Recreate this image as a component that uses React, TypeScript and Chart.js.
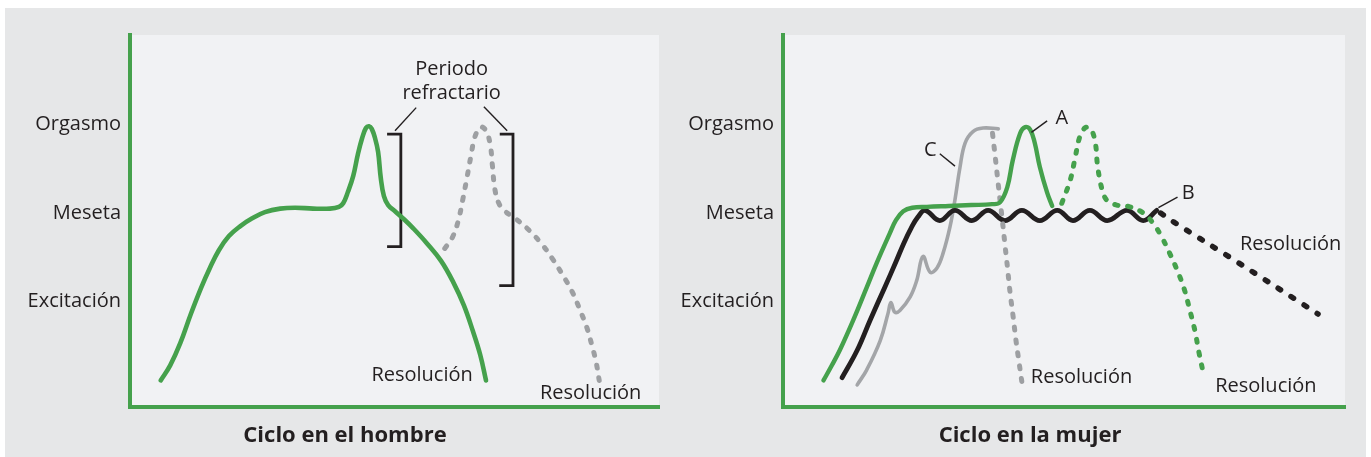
import React, { useEffect, useRef } from 'react';
import { Chart, registerables } from 'chart.js';

Chart.register(...registerables);

type P = [number, number];

// ---------- shared axis data ----------
const levelTicks = [1, 2, 3];
const levelNames = ['Excitación', 'Meseta', 'Orgasmo'];

// ---------- Ciclo en el hombre (x: 0-100 time, y: arousal level) ----------
const hombreCurve: P[] = [
  [5.8, 0.11], [7.6, 0.28], [9.5, 0.53], [11.5, 0.86], [13.4, 1.15], [15.1, 1.38], [16.8, 1.58],
  [18.7, 1.74], [20.8, 1.85], [23.1, 1.94], [25.5, 2.01], [28.4, 2.05], [31.2, 2.06], [34.6, 2.05],
  [37.8, 2.05], [39.5, 2.07], [40.3, 2.11], [41.2, 2.24], [42.2, 2.42], [43.1, 2.67], [43.9, 2.85],
  [44.6, 2.96], [45.2, 2.98], [45.7, 2.95], [46.3, 2.85], [46.9, 2.69], [47.4, 2.4], [48.0, 2.19],
  [48.8, 2.09], [50.1, 2.02], [51.8, 1.93], [53.5, 1.83], [56.1, 1.66], [58.8, 1.46], [61.1, 1.22],
  [63.1, 0.96], [64.8, 0.67], [66.2, 0.4], [67.3, 0.11],
];
const hombreSegundo: P[] = [
  [59.5, 1.6], [60.9, 1.72], [62.0, 1.9], [62.9, 2.15], [63.7, 2.4], [64.5, 2.66], [65.2, 2.86],
  [66.3, 2.97], [67.3, 2.93], [68.1, 2.77], [68.5, 2.54], [69.0, 2.26], [69.8, 2.1], [70.9, 2.02],
  [72.8, 1.94], [75.2, 1.82], [77.7, 1.66], [79.9, 1.48], [81.8, 1.3], [83.6, 1.11], [85.1, 0.9],
  [86.4, 0.7], [87.3, 0.51], [88.1, 0.32], [88.7, 0.11],
];
const bracketUno: P[] = [[48.6, 2.89], [51.2, 2.89], [51.2, 1.62], [48.6, 1.62]];
const bracketDos: P[] = [[69.9, 2.89], [72.4, 2.89], [72.4, 1.18], [69.8, 1.18]];
const guiaUno: P[] = [[50.1, 2.93], [54.1, 3.19]];
const guiaDos: P[] = [[66.9, 3.2], [71.3, 2.93]];
const hombreNotas = [
  { text: 'Periodo', x: 60.8, y: 3.62, align: 'center' },
  { text: 'refractario', x: 60.8, y: 3.35, align: 'center' },
  { text: 'Resolución', x: 64.8, y: 0.17, align: 'right' },
  { text: 'Resolución', x: 77.5, y: -0.04, align: 'left' },
];

// ---------- Ciclo en la mujer ----------
const mujerA: P[] = [
  [7.2, 0.11], [8.6, 0.27], [10.1, 0.45], [12.5, 0.79], [14.9, 1.16], [16.7, 1.44], [19.0, 1.77],
  [20.1, 1.92], [21.4, 2.02], [23.0, 2.06], [25.6, 2.07], [29.5, 2.08], [33.5, 2.09], [37.2, 2.1],
  [38.6, 2.12], [39.9, 2.29], [40.9, 2.6], [42.2, 2.9], [43.1, 2.97], [44.0, 2.94], [44.8, 2.79],
  [45.7, 2.52], [47.0, 2.23], [47.9, 2.08],
];
const mujerAResol: P[] = [
  [49.6, 2.11], [51.1, 2.37], [52.0, 2.63], [52.8, 2.86], [53.7, 2.96], [54.6, 2.96], [55.5, 2.82],
  [56.0, 2.52], [56.8, 2.26], [57.7, 2.14], [59.4, 2.09], [61.7, 2.07], [64.1, 2.0], [65.8, 1.89],
  [67.3, 1.74], [68.7, 1.56], [70.1, 1.36], [71.4, 1.14], [72.4, 0.9], [73.3, 0.67], [74.0, 0.43],
  [74.9, 0.16],
];
const mujerB: P[] = [
  [10.5, 0.14], [13.2, 0.45], [15.5, 0.79], [18.1, 1.16], [20.1, 1.45], [21.5, 1.66], [22.8, 1.83],
  [24.0, 1.955], [25.3, 2.03], [27.9, 1.915], [30.6, 2.03], [33.6, 1.915], [36.5, 2.03], [39.5, 1.915],
  [42.5, 2.03], [45.7, 1.915], [48.8, 2.03], [51.6, 1.915], [54.6, 2.03], [57.7, 1.915], [61.2, 2.03],
  [64.1, 1.915], [66.5, 2.03],
];
const mujerBResol: P[] = [[67.2, 2.0], [69.5, 1.9], [81.0, 1.44], [95.2, 0.86]];
const mujerC: P[] = [
  [13.2, 0.06], [14.9, 0.23], [17.3, 0.56], [18.7, 0.87], [19.2, 0.99], [19.9, 0.88], [20.8, 0.9],
  [22.6, 1.05], [23.8, 1.24], [24.9, 1.51], [26.2, 1.33], [27.4, 1.38], [28.5, 1.55], [29.7, 1.84],
  [30.6, 2.15], [31.5, 2.52], [32.4, 2.79], [33.8, 2.92], [35.6, 2.96], [38.3, 2.95],
];
const mujerCResol: P[] = [
  [37.28, 2.9], [37.72, 2.66], [38.17, 2.4], [38.61, 2.15], [39.06, 1.9], [39.5, 1.64],
  [39.95, 1.38], [40.39, 1.11], [40.93, 0.84], [41.46, 0.56], [41.99, 0.32], [42.53, 0.08],
];
const guiaA: P[] = [[47.0, 3.04], [44.2, 2.91]];
const guiaB: P[] = [[70.2, 2.18], [66.8, 2.06]];
const guiaC: P[] = [[27.9, 2.67], [30.6, 2.53]];
const mujerNotas = [
  { text: 'A', x: 49.6, y: 3.07, align: 'center' },
  { text: 'B', x: 72.1, y: 2.22, align: 'center' },
  { text: 'C', x: 26.2, y: 2.71, align: 'center' },
  { text: 'Resolución', x: 81.3, y: 1.65, align: 'left' },
  { text: 'Resolución', x: 44.1, y: 0.14, align: 'left' },
  { text: 'Resolución', x: 76.9, y: 0.045, align: 'left' },
];

// ---------- styles ----------
const GREEN = '#45a14c';
const INK = '#231f20';
const GREY_DOT = '#9d9fa2';
const GREY_LINE = '#a3a5a8';
const FONT = '"Open Sans", "Noto Sans", sans-serif';

const toXY = (pts: P[]) => pts.map(([x, y]) => ({ x, y }));

const curve = (pts: P[], color: string, width: number, order: number, dash?: number[]) => ({
  data: toXY(pts),
  borderColor: color,
  borderWidth: width,
  tension: 0.4,
  pointRadius: 0,
  fill: false,
  order,
  borderCapStyle: 'round',
  borderJoinStyle: 'round',
  borderDash: dash || [],
});

const stroke = (pts: P[], width: number, order: number) => ({
  data: toXY(pts),
  borderColor: INK,
  borderWidth: width,
  tension: 0,
  pointRadius: 0,
  fill: false,
  order,
  borderCapStyle: 'butt',
  borderJoinStyle: 'miter',
});

const panelBg = {
  id: 'panelBg',
  beforeDraw(chart: any) {
    const { ctx, chartArea: a } = chart;
    ctx.save();
    ctx.fillStyle = '#f1f2f4';
    ctx.fillRect(a.left, a.top, a.right - a.left, a.bottom - a.top);
    ctx.restore();
  },
};

const notesPlugin = {
  id: 'notes',
  afterDatasetsDraw(chart: any, _args: any, opts: any) {
    const { ctx, scales } = chart;
    ctx.save();
    ctx.fillStyle = INK;
    ctx.font = `20px ${FONT}`;
    ctx.textBaseline = 'middle';
    for (const n of opts.items || []) {
      ctx.textAlign = n.align;
      ctx.fillText(n.text, scales.x.getPixelForValue(n.x), scales.y.getPixelForValue(n.y));
    }
    ctx.restore();
  },
};

const makeConfig = (datasets: any[], notes: any[], axisW: number, rightPad: number) => ({
  type: 'line',
  data: { datasets },
  options: {
    animation: false,
    responsive: false,
    events: [],
    layout: { padding: { top: 27, right: rightPad, left: 0, bottom: 0 } },
    plugins: {
      legend: { display: false },
      tooltip: { enabled: false },
      notes: { items: notes },
    },
    scales: {
      x: {
        type: 'linear',
        min: 0,
        max: 100,
        ticks: { display: false },
        grid: { display: false, drawTicks: false },
        border: { display: true, color: GREEN, width: 4 },
        afterFit: (s: any) => { s.height = 50; },
      },
      y: {
        type: 'linear',
        min: -0.19,
        max: 4.01,
        afterBuildTicks: (s: any) => { s.ticks = levelTicks.map((v) => ({ value: v })); },
        ticks: {
          autoSkip: false,
          padding: 9,
          color: INK,
          font: { family: FONT, size: 20 },
          callback: (_v: any, i: number) => levelNames[i],
        },
        grid: { display: false, drawTicks: false },
        border: { display: true, color: GREEN, width: 4 },
        afterFit: (s: any) => { s.width = axisW; },
      },
    },
  },
  plugins: [panelBg, notesPlugin],
});

function Panel({ config, left, width, height }: { config: any; left: number; width: number; height: number }) {
  const ref = useRef<HTMLCanvasElement | null>(null);
  useEffect(() => {
    const chart = new Chart(ref.current as HTMLCanvasElement, config);
    return () => chart.destroy();
  }, []);
  return (
    <canvas
      ref={ref}
      width={width}
      height={height}
      style={{ position: 'absolute', left, top: 8, width, height }}
    />
  );
}

const hombreConfig = makeConfig(
  [
    curve(hombreCurve, GREEN, 4.6, 1),
    curve(hombreSegundo, GREY_DOT, 5, 2, [3, 10]),
    stroke(bracketUno, 2.8, 3),
    stroke(bracketDos, 2.8, 3),
    stroke(guiaUno, 1.4, 3),
    stroke(guiaDos, 1.4, 3),
  ],
  hombreNotas,
  125,
  11,
);

const mujerConfig = makeConfig(
  [
    curve(mujerAResol, GREEN, 5, 1, [3, 10]),
    curve(mujerA, GREEN, 4.4, 2),
    curve(mujerBResol, INK, 5.5, 3, [3, 12.5]),
    curve(mujerCResol, GREY_DOT, 5, 4, [3, 10]),
    curve(mujerB, INK, 4.8, 5),
    curve(mujerC, GREY_LINE, 3.6, 6),
    stroke(guiaA, 1.4, 0),
    stroke(guiaB, 1.4, 0),
    stroke(guiaC, 1.4, 0),
  ],
  mujerNotas,
  113,
  21,
);

const titleStyle = (left: number): React.CSSProperties => ({
  position: 'absolute',
  left,
  top: 422,
  width: 400,
  textAlign: 'center',
  fontFamily: FONT,
  fontWeight: 700,
  fontSize: 22,
  lineHeight: '22px',
  color: INK,
});

export default function App() {
  return (
    <div style={{ position: 'absolute', left: 0, top: 0, width: 1371, height: 457, background: '#ffffff', overflow: 'hidden' }}>
      <div style={{ position: 'absolute', left: 5, top: 8, width: 1361, height: 449, background: '#e6e7e8' }} />
      <Panel config={hombreConfig} left={5} width={665} height={449} />
      <Panel config={mujerConfig} left={670} width={696} height={449} />
      <div style={titleStyle(145)}>Ciclo en el hombre</div>
      <div style={titleStyle(830)}>Ciclo en la mujer</div>
    </div>
  );
}
